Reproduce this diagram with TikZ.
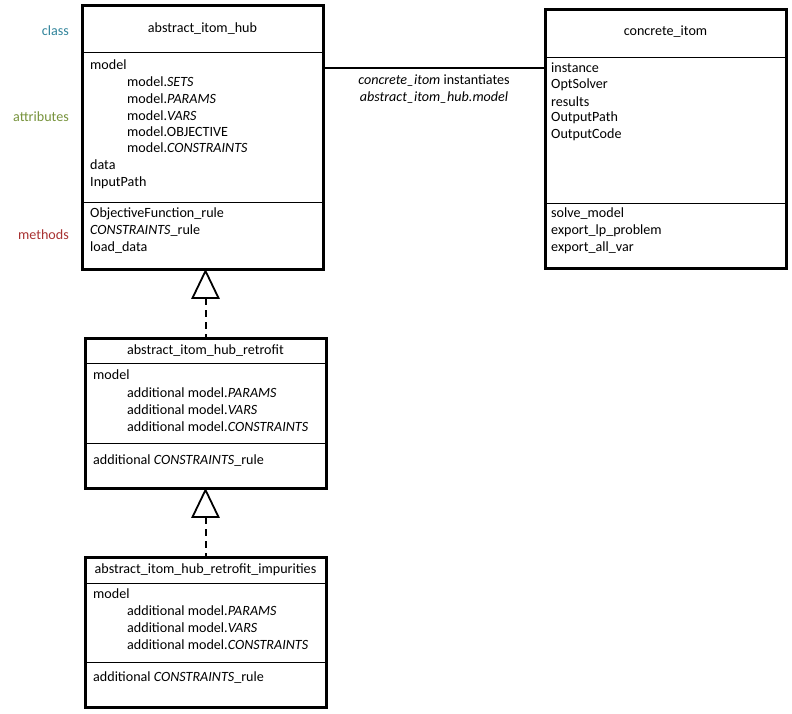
\documentclass[tikz,border=0pt]{standalone}
\usepackage{fontspec}
\setmainfont{Carlito}
\usetikzlibrary{calc}
\definecolor{clsc}{HTML}{31849B}
\definecolor{attc}{HTML}{77933C}
\definecolor{metc}{HTML}{A83232}
\tikzset{
  box/.style={draw, line width=3pt},
  divider/.style={line width=0.9pt},
  txt/.style={anchor=west, inner sep=0pt, font=\fontsize{14.1}{15.5}\selectfont},
  ttl/.style={inner sep=0pt, font=\fontsize{14.1}{15.5}\selectfont},
  side/.style={anchor=east, inner sep=0pt, font=\fontsize{14.1}{15.5}\selectfont},
  inherit/.style={draw, line width=1.8pt, fill=white},
  dashline/.style={line width=2pt, dash pattern=on 7pt off 5pt},
  link/.style={line width=1.8pt}
}
\begin{document}
\begin{tikzpicture}[x=1pt,y=-1pt]
\useasboundingbox (0,0) rectangle (792,714);
% side labels
\node[side, text=clsc] (lclass) at (69,31) {class};
\node[side, text=attc] (lattr) at (69,117) {attributes};
\node[side, text=metc] (lmeth) at (69,235) {methods};

% box 1
\node[box, minimum width=241pt, minimum height=263pt, inner sep=0pt] (hub) at (202.5,137.5) {};
\draw[divider] (82,52) -- (323,52);
\draw[divider] (82,202) -- (323,202);
\node[ttl] (hubt) at (202.5,29) {abstract\_itom\_hub};
\node[txt] (h1) at (90,65) {model};
\node[txt] (h2) at (127,82) {model.\textit{SETS}};
\node[txt] (h3) at (127,99) {model.\textit{PARAMS}};
\node[txt] (h4) at (127,116) {model.\textit{VARS}};
\node[txt] (h5) at (127,132) {model.OBJECTIVE};
\node[txt] (h6) at (127,148) {model.\textit{CONSTRAINTS}};
\node[txt] (h7) at (90,165) {data};
\node[txt] (h8) at (90,183) {InputPath};
\node[txt] (h9) at (90,214) {ObjectiveFunction\_rule};
\node[txt] (h10) at (90,231) {\textit{CONSTRAINTS}\_rule};
\node[txt] (h11) at (90,248) {load\_data};

% box 2
\node[box, minimum width=241pt, minimum height=258pt, inner sep=0pt] (conc) at (665.5,139) {};
\draw[divider] (545,57) -- (786,57);
\draw[divider] (545,203) -- (786,203);
\node[ttl] (conct) at (665.5,32) {concrete\_itom};
\node[txt] (c1) at (551,68) {instance};
\node[txt] (c2) at (551,85) {OptSolver};
\node[txt] (c3) at (551,102) {results};
\node[txt] (c4) at (551,118) {OutputPath};
\node[txt] (c5) at (551,135) {OutputCode};
\node[txt] (c6) at (551,214) {solve\_model};
\node[txt] (c7) at (551,231) {export\_lp\_problem};
\node[txt] (c8) at (551,248) {export\_all\_var};

% connector
\coordinate (la) at (hub.east |- 0,68);
\coordinate (lb) at (conc.west |- 0,68);
\draw[link] (la) -- (lb);
\node[ttl, align=center] (lbl) at (434,89.5) {\textit{concrete\_itom} instantiates\\[1.5pt]\textit{abstract\_itom\_hub.model}};

% box 3
\node[box, minimum width=241pt, minimum height=150pt, inner sep=0pt] (ret) at (205.5,413) {};
\draw[divider] (85,363) -- (326,363);
\draw[divider] (85,443) -- (326,443);
\node[ttl] (rett) at (205.5,351) {abstract\_itom\_hub\_retrofit};
\node[txt] (r1) at (93,375) {model};
\node[txt] (r2) at (127,393) {additional model.\textit{PARAMS}};
\node[txt] (r3) at (127,410) {additional model.\textit{VARS}};
\node[txt] (r4) at (127,427) {additional model.\textit{CONSTRAINTS}};
\node[txt] (r5) at (93,461) {additional \textit{CONSTRAINTS}\_rule};

% box 4
\node[box, minimum width=241pt, minimum height=150pt, inner sep=0pt] (imp) at (205.5,632) {};
\draw[divider] (85,583) -- (326,583);
\draw[divider] (85,662) -- (326,662);
\node[ttl] (impt) at (205.5,570) {abstract\_itom\_hub\_retrofit\_impurities};
\node[txt] (i1) at (93,594) {model};
\node[txt] (i2) at (127,611) {additional model.\textit{PARAMS}};
\node[txt] (i3) at (127,628) {additional model.\textit{VARS}};
\node[txt] (i4) at (127,645) {additional model.\textit{CONSTRAINTS}};
\node[txt] (i5) at (93,678) {additional \textit{CONSTRAINTS}\_rule};

% inheritance arrows
\coordinate (t1) at (205.5,271);
\coordinate (b1) at (205.5,298);
\draw[dashline] (b1) -- (ret.north);
\draw[inherit] (t1) -- (192.5,298) -- (218.5,298) -- cycle;
\coordinate (t2) at (205.5,490);
\coordinate (b2) at (205.5,517);
\draw[dashline] (b2) -- (imp.north);
\draw[inherit] (t2) -- (192.5,517) -- (218.5,517) -- cycle;
\end{tikzpicture}
\end{document}
